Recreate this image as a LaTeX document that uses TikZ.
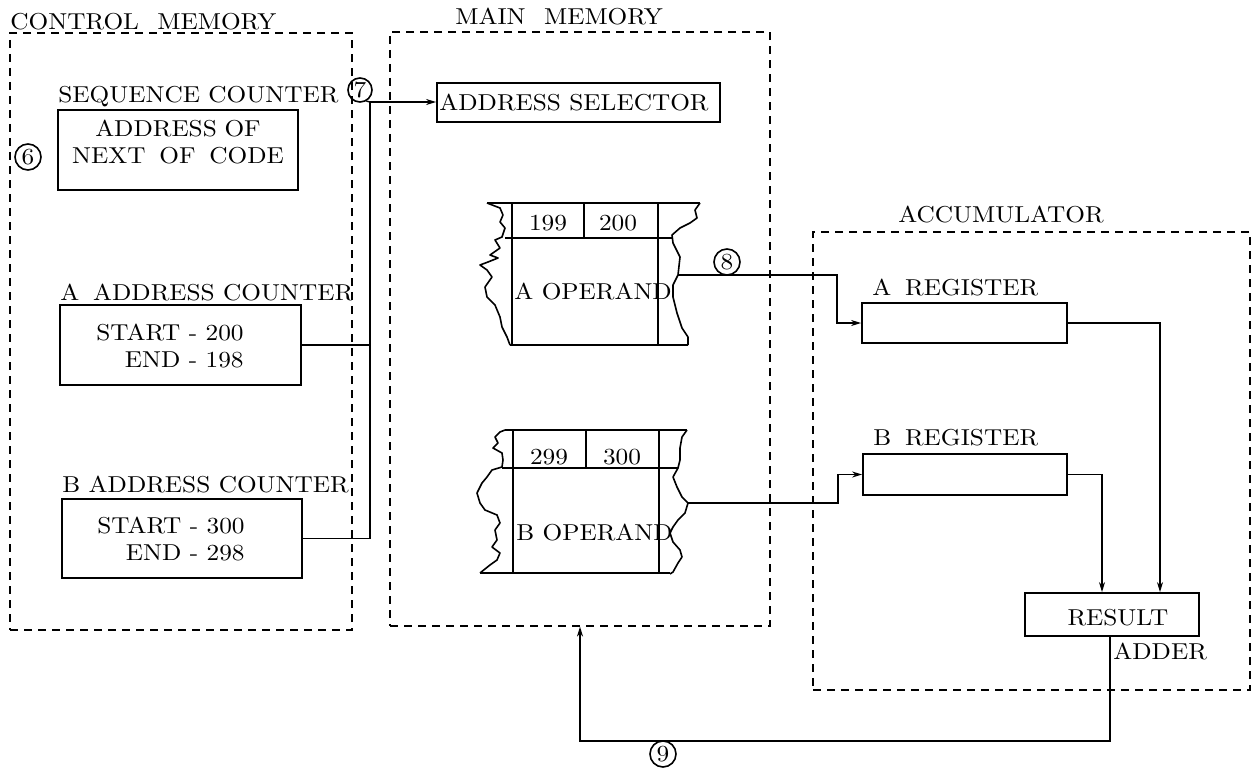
\documentclass[tikz,border=0pt]{standalone}
\usepackage{fontspec}
\setmainfont{lmroman10-regular}[Extension=.otf, FakeStretch=1.1]
\usetikzlibrary{arrows.meta,fit}
\begin{document}
\begin{tikzpicture}[x=0.5pt,y=-0.5pt,
  font=\fontsize{11.5}{13.5}\selectfont,
  grp/.style={draw, dash pattern=on 4pt off 3pt, line width=0.6pt, inner sep=0pt},
  box/.style={draw, line width=0.9pt, inner sep=0pt},
  lbl/.style={anchor=base west, inner sep=0pt},
  txt/.style={inner sep=0pt},
  num/.style={draw, circle, line width=0.8pt, inner sep=0pt, minimum size=13pt},
  wire/.style={line width=0.7pt},
  arr/.style={wire, -{Stealth[length=5pt,width=3pt]}},
  mem/.style={line width=0.8pt, line join=round}]
\useasboundingbox (0,0) rectangle (1253,776);

% group boxes
\node[grp, fit={(10,33)(352,630)}] (cm) {};
\node[grp, fit={(390,32)(770,626)}] (mm) {};
\node[grp, fit={(813,232)(1250,690)}] (acc) {};
\node[lbl] (cml) at (10,29) {CONTROL\hspace{0.8em}MEMORY};
\node[lbl] (mml) at (455,25) {MAIN\hspace{0.8em}MEMORY};
\node[lbl] (accl) at (898,222) {ACCUMULATOR};

% control memory
\node[lbl] (seql) at (58,102) {SEQUENCE COUNTER};
\node[box, fit={(58,110)(298,190)}, align=center] (seq) {ADDRESS OF\\NEXT\hspace{0.6em}OF\hspace{0.6em}CODE};
\node[num] (c6) at (28,157) {6};
\node[num, minimum size=12pt] (c7) at (360,90) {7};

\node[lbl] (acl) at (60,300) {A\hspace{0.6em}ADDRESS COUNTER};
\node[box, fit={(60,305)(301,385)}] (acnt) {};
\node[txt, anchor=east, align=right] (actx) at (244,346) {START - 200\\END - 198};

\node[lbl] (bcl) at (62,492) {B ADDRESS COUNTER};
\node[box, fit={(62,499)(302,578)}] (bcnt) {};
\node[txt, anchor=east, align=right] (bctx) at (245,539) {START - 300\\END - 298};

% main memory
\node[box, fit={(437,83)(720,122)}] (asel) {};
\node[txt, anchor=west] (aselt) at (439,103) {ADDRESS SELECTOR};

% memory block A
\draw[mem] (487,203) -- (700,203);
\draw[mem] (505,238) -- (672,238);
\draw[mem] (510,345) -- (688,345);
\draw[mem] (512,203) -- (512,345);
\draw[mem] (658,203) -- (658,345);
\draw[mem] (584,203) -- (584,238);
\draw[mem] (487,203) -- (500,208) -- (503,215) -- (500,222) -- (505,228) -- (502,237)
  -- (495,240) -- (500,248) -- (490,255) -- (498,258) -- (488,262) -- (480,265)
  -- (487,270) -- (492,277) -- (485,287) -- (487,297) -- (495,305) -- (500,317)
  -- (502,327) -- (507,337) -- (510,345);
\draw[mem] (700,203) -- (695,210) -- (697,218) -- (690,223) -- (680,228) -- (672,235)
  -- (673,243) -- (680,257) -- (678,275) -- (673,285) -- (673,297) -- (677,313)
  -- (682,328) -- (688,337) -- (688,345);
\node[txt] (n199) at (548,223) {199};
\node[txt] (n200) at (618,223) {200};
\node[txt, anchor=west] (aop) at (514,292) {A OPERAND};
\coordinate (aout) at (678,275);

% memory block B
\draw[mem] (505,430) -- (687,430);
\draw[mem] (502,468) -- (678,468);
\draw[mem] (480,573) -- (670,573);
\draw[mem] (513,430) -- (513,573);
\draw[mem] (659,430) -- (659,573);
\draw[mem] (586,430) -- (586,468);
\draw[mem] (505,430) -- (500,432) -- (495,437) -- (498,443) -- (493,448) -- (502,453)
  -- (503,460) -- (502,467) -- (492,470) -- (487,477) -- (482,483) -- (477,493)
  -- (480,503) -- (485,510) -- (497,515) -- (500,523) -- (495,530) -- (497,540)
  -- (492,547) -- (500,553) -- (497,560) -- (490,565) -- (480,573);
\draw[mem] (687,430) -- (682,437) -- (680,448) -- (680,460) -- (678,468) -- (673,477)
  -- (677,487) -- (682,497) -- (688,503) -- (685,513) -- (678,520) -- (673,527)
  -- (670,533) -- (673,542) -- (680,550) -- (682,557) -- (678,563) -- (673,572)
  -- (670,574);
\node[txt] (n299) at (549,457) {299};
\node[txt] (n300) at (622,457) {300};
\node[txt, anchor=west] (bop) at (516,533) {B OPERAND};
\coordinate (bout) at (688,503);

% accumulator
\node[lbl] (arl) at (872,295) {A\hspace{0.6em}REGISTER};
\node[box, fit={(862,303)(1067,343)}] (areg) {};
\node[lbl] (brl) at (873,445) {B\hspace{0.6em}REGISTER};
\node[box, fit={(863,454)(1067,495)}] (breg) {};
\node[box, fit={(1025,593)(1199,636)}] (res) {};
\node[txt] (rest) at (1118,618) {RESULT};
\node[lbl] (addl) at (1113,659) {ADDER};

% connectors
\coordinate (j7) at (370,102);
\draw[wire] (c7.-60) -- (j7);
\draw[arr] (j7) -- (asel.west |- j7);
\draw[wire] (acnt.east) -| (j7);
\draw[wire] (bcnt.east) -| (j7);

\node[num] (c8) at (727,262) {8};
\coordinate (ka) at (837,275);
\coordinate (kb) at (838,503);
\draw[arr] (aout) -- (ka) |- (areg.west);
\draw[arr] (bout) -- (kb) |- (breg.west);
\draw[arr] (areg.east) -| ([xshift=24pt]res.north);
\draw[arr] (breg.east) -| ([xshift=-5pt]res.north);

\coordinate (fb) at (1110,741);
\draw[arr] (res.south -| fb) -- (fb) -| (mm.south);
\node[num] (c9) at (663,754) {9};
\end{tikzpicture}
\end{document}
